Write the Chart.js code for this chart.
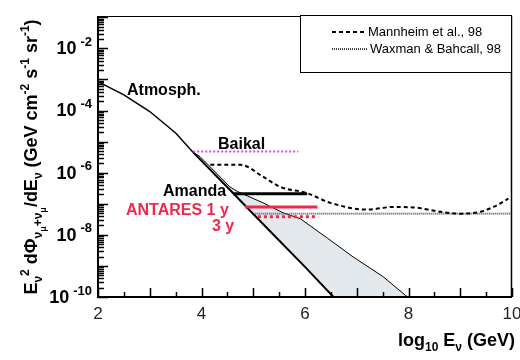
<!DOCTYPE html>
<html>
<head>
<meta charset="utf-8">
<script src="https://cdn.jsdelivr.net/npm/chart.js@4/dist/chart.umd.min.js"></script>
<style>
  body { margin: 0; background: #fff; }
  canvas { display: block; }
</style>
</head>
<body>
<canvas id="flux-chart" width="520" height="360"></canvas>
<script>
// x = log10 E (GeV), y = E^2 dPhi/dE (GeV cm-2 s-1 sr-1)
const atmEnergy = [2.0, 2.5, 3.0, 3.5, 3.84];
const atmFlux = [8.5e-4, 3.2e-4, 9.3e-5, 1.9e-5, 4.5e-6];
const atmLowEnergy = [3.84, 4.5, 5.0, 5.5, 6.0, 6.55];
const atmLowFlux = [4.5e-6, 3.4e-7, 4.7e-8, 6.6e-9, 9.3e-10, 1e-10];
const atmHighEnergy = [3.84, 3.97, 4.55, 4.69, 5.19, 5.58, 5.91, 6.43, 6.93, 7.51, 7.98];
const atmHighFlux = [4.5e-6, 3.3e-6, 3.5e-7, 2.5e-7, 1.07e-7, 5.1e-8, 3.3e-8, 7.9e-9, 1.95e-9, 4.5e-10, 1e-10];
const mannheimEnergy = [4.17, 4.75, 5.19, 5.52, 6.04, 6.49, 7.2, 7.71, 8.17, 8.62, 9.0, 9.39, 9.64, 9.93];
const mannheimFlux = [1.8e-6, 1.8e-6, 7.4e-7, 3.5e-7, 2.2e-7, 1.07e-7, 6.5e-8, 7.9e-8, 7.4e-8, 5.5e-8, 4.8e-8, 5.5e-8, 7.9e-8, 1.45e-7];
const wbEnergy = [5.04, 9.97];
const wbFlux = [4.8e-8, 4.8e-8];
const baikalEnergy = [3.84, 5.87];
const baikalFlux = [4.8e-6, 4.8e-6];
const amandaEnergy = [4.61, 6.04];
const amandaFlux = [2.1e-7, 2.1e-7];
const antares1Energy = [4.84, 6.24];
const antares1Flux = [7.9e-8, 7.9e-8];
const antares3Energy = [5.09, 6.24];
const antares3Flux = [3.8e-8, 3.8e-8];
const xTickLabels = [2, 4, 6, 8, 10];
const yLabelExponents = [-2, -4, -6, -8, -10];

const FONT = '"Liberation Sans", Arial, sans-serif';
const RED = '#f0284a';

function pts(xs, ys) {
  return xs.map((x, i) => ({ x: x, y: ys[i] }));
}

// shaded band: upper bound out, lower bound back
const bandPoints = pts(atmHighEnergy, atmHighFlux).concat(pts(atmLowEnergy, atmLowFlux).reverse());

function drawRich(ctx, parts, x, y, align) {
  let total = 0;
  parts.forEach(p => {
    ctx.font = 'bold ' + p[1] + 'px ' + FONT;
    total += ctx.measureText(p[0]).width;
  });
  let cx = align === 'right' ? x - total : (align === 'center' ? x - total / 2 : x);
  ctx.textAlign = 'left';
  ctx.textBaseline = 'alphabetic';
  parts.forEach(p => {
    ctx.font = 'bold ' + p[1] + 'px ' + FONT;
    ctx.fillText(p[0], cx, y + p[2]);
    cx += ctx.measureText(p[0]).width;
  });
}

const framePlugin = {
  id: 'frame',
  afterDraw(chart) {
    const ctx = chart.ctx;
    const a = chart.chartArea;
    const xs = chart.scales.x;
    const ys = chart.scales.y;
    ctx.save();
    ctx.strokeStyle = '#000';
    ctx.fillStyle = '#000';

    // frame
    ctx.lineWidth = 1;
    ctx.beginPath();
    ctx.moveTo(a.left, a.top + 0.5);
    ctx.lineTo(a.right, a.top + 0.5);
    ctx.stroke();
    ctx.lineWidth = 1.5;
    ctx.beginPath();
    ctx.moveTo(a.right - 0.5, a.top);
    ctx.lineTo(a.right - 0.5, a.bottom);
    ctx.stroke();
    ctx.lineWidth = 2;
    ctx.beginPath();
    ctx.moveTo(a.left, a.top);
    ctx.lineTo(a.left, a.bottom);
    ctx.lineTo(a.right, a.bottom);
    ctx.stroke();

    // inward ticks
    ctx.lineWidth = 1.5;
    for (let v = 2; v <= 10; v += 0.5) {
      const px = Math.round(xs.getPixelForValue(v)) + 0.5;
      const len = Number.isInteger(v) ? 9 : 5;
      ctx.beginPath();
      ctx.moveTo(px, a.bottom);
      ctx.lineTo(px, a.bottom - len);
      ctx.stroke();
    }
    for (let e = -10; e < 0; e++) {
      for (let k = 1; k <= 9; k++) {
        const val = k * Math.pow(10, e);
        if (val > ys.max) continue;
        const py = Math.round(ys.getPixelForValue(val)) + 0.5;
        ctx.beginPath();
        ctx.moveTo(a.left, py);
        ctx.lineTo(a.left + (k === 1 ? 10 : 6), py);
        ctx.stroke();
      }
    }

    // y tick labels 10^-n
    yLabelExponents.forEach(e => {
      const py = ys.getPixelForValue(Math.pow(10, e));
      const sup = String(e);
      ctx.font = 'bold 13px ' + FONT;
      const sw = ctx.measureText(sup).width;
      ctx.textAlign = 'right';
      ctx.textBaseline = 'middle';
      ctx.fillText(sup, 92, py - 6);
      ctx.font = 'bold 18px ' + FONT;
      ctx.fillText('10', 92 - sw - 4, py + 1);
    });

    // axis titles
    drawRich(ctx, [['log', 18, 0], ['10', 12, 5], [' E', 18, 0], ['ν', 12, 5], [' (GeV)', 18, 0]], 515, 346, 'right');
    ctx.save();
    ctx.translate(37, 157);
    ctx.rotate(-Math.PI / 2);
    drawRich(ctx, [
      ['E', 18, 0], ['ν', 12, 5], ['2', 12, -8], [' dΦ', 18, 0], ['ν', 12, 5], ['μ', 9, 9], ['+', 12, 5],
      ['ν', 12, 5], ['μ', 9, 9], ['/dE', 18, 0], ['ν', 12, 5], [' (GeV cm', 18, 0], ['-2', 12, -8],
      [' s', 18, 0], ['-1', 12, -8], [' sr', 18, 0], ['-1', 12, -8], [')', 18, 0]
    ], 0, 0, 'center');
    ctx.restore();

    // curve labels
    ctx.font = 'bold 16px ' + FONT;
    ctx.textAlign = 'left';
    ctx.textBaseline = 'middle';
    ctx.fillStyle = '#000';
    ctx.fillText('Atmosph.', 127, 91);
    ctx.fillText('Baikal', 218, 145);
    ctx.fillText('Amanda', 163, 192);
    ctx.fillStyle = RED;
    ctx.fillText('ANTARES 1 y', 126, 211);
    ctx.fillText('3 y', 212, 227);

    // legend
    ctx.fillStyle = '#fff';
    ctx.fillRect(300, 15, 211, 57);
    ctx.strokeStyle = '#000';
    ctx.lineWidth = 1;
    ctx.strokeRect(300.5, 15.5, 211, 57);
    ctx.lineWidth = 2;
    ctx.setLineDash([4, 3]);
    ctx.beginPath();
    ctx.moveTo(332, 32);
    ctx.lineTo(365, 32);
    ctx.stroke();
    ctx.strokeStyle = '#444';
    ctx.setLineDash([1, 1]);
    ctx.beginPath();
    ctx.moveTo(332, 49);
    ctx.lineTo(367, 49);
    ctx.stroke();
    ctx.setLineDash([]);
    ctx.fillStyle = '#000';
    ctx.font = '13px ' + FONT;
    ctx.textAlign = 'left';
    ctx.fillText('Mannheim et al., 98', 368, 32);
    ctx.fillText('Waxman & Bahcall, 98', 370, 49);
    ctx.restore();
  }
};

new Chart(document.getElementById('flux-chart'), {
  type: 'line',
  data: {
    datasets: [
      { data: pts(antares1Energy, antares1Flux), borderColor: RED, borderWidth: 3 },
      { data: pts(antares3Energy, antares3Flux), borderColor: RED, borderWidth: 3, borderDash: [3, 3] },
      { data: pts(amandaEnergy, amandaFlux), borderColor: '#000', borderWidth: 3 },
      { data: pts(baikalEnergy, baikalFlux), borderColor: '#e83be8', borderWidth: 2, borderDash: [2, 2] },
      { data: pts(mannheimEnergy, mannheimFlux), borderColor: '#000', borderWidth: 2, borderDash: [4, 3], cubicInterpolationMode: 'monotone' },
      { data: pts(wbEnergy, wbFlux), borderColor: '#555', borderWidth: 2, borderDash: [1, 1] },
      { data: pts(atmEnergy, atmFlux), borderColor: '#000', borderWidth: 1.5 },
      { data: pts(atmLowEnergy, atmLowFlux), borderColor: '#000', borderWidth: 2 },
      { data: pts(atmHighEnergy, atmHighFlux), borderColor: '#000', borderWidth: 1 },
      { data: bandPoints, borderWidth: 0, borderColor: 'rgba(0,0,0,0)', backgroundColor: '#e3e8ec', fill: 'shape' }
    ]
  },
  options: {
    responsive: false,
    animation: false,
    devicePixelRatio: 1,
    layout: { padding: { top: 16, right: 8, bottom: 0, left: 0 } },
    elements: { point: { radius: 0 } },
    plugins: { legend: { display: false }, tooltip: { enabled: false } },
    scales: {
      x: {
        type: 'linear',
        min: 2,
        max: 10,
        grid: { display: false, drawTicks: false },
        border: { display: false },
        afterBuildTicks: scale => { scale.ticks = xTickLabels.map(v => ({ value: v })); },
        ticks: { font: { family: FONT, size: 17 }, color: '#222', padding: 7, maxRotation: 0, autoSkip: false },
        afterFit: scale => { scale.height = 63; scale.paddingLeft = 0; scale.paddingRight = 0; }
      },
      y: {
        type: 'logarithmic',
        min: 1e-10,
        max: 0.11,
        grid: { display: false, drawTicks: false },
        border: { display: false },
        ticks: { display: false },
        afterFit: scale => { scale.width = 98; }
      }
    }
  },
  plugins: [framePlugin]
});
</script>
</body>
</html>
